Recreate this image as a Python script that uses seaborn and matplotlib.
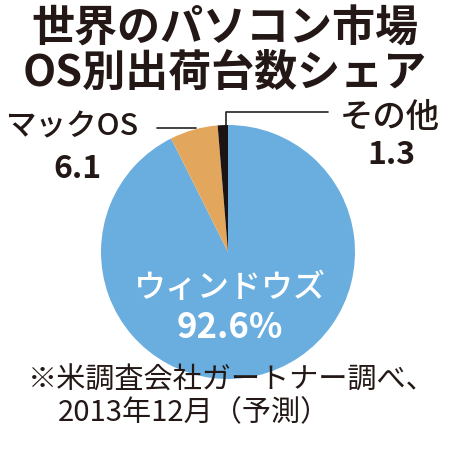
import matplotlib
matplotlib.use("Agg")
import matplotlib.pyplot as plt
import seaborn as sns

# data
labels = ["ウィンドウズ", "マックOS", "その他"]
shares = [92.6, 6.1, 1.3]
colors = ["#6aaedf", "#e2a65c", "#1c1414"]

title_lines = ["世界のパソコン市場", "OS別出荷台数シェア"]
note_lines = ["※米調査会社ガートナー調べ、", "2013年12月（予測）"]

sns.set_theme(style="white")
plt.rcParams["font.family"] = ["Noto Sans CJK JP", "DejaVu Sans"]

W = H = 450
fig = plt.figure(figsize=(4.5, 4.5), dpi=100)


def px(x, y):
    # pixel position (from top-left) -> figure fraction
    return x / W, 1 - y / H


cx, cy, r = 228, 252, 127
ax = fig.add_axes([(cx - r) / W, (H - cy - r) / H, 2 * r / W, 2 * r / H])
ax.pie(shares, colors=colors, startangle=90, counterclock=False,
       radius=1, wedgeprops=dict(linewidth=0))
ax.set_xlim(-1, 1)
ax.set_ylim(-1, 1)
ax.set_aspect("equal")
ax.axis("off")


def d(x, y):
    # pixel -> data coords of pie axes
    return (x - cx) / r, (cy - y) / r


# leader lines
(x0, y0), (x1, y1) = d(157, 128), d(196, 128)
ax.plot([x0, x1], [y0, y1], color="#222222", lw=1.2, clip_on=False)
(a, b), (c, e), (f, g) = d(226, 125), d(226, 112), d(328, 112)
ax.plot([a, c, f], [b, e, g], color="#222222", lw=1.2, clip_on=False)

# title
fig.text(*px(225, 29), title_lines[0], ha="center", va="center",
         fontsize=31, fontweight="bold", color="#231815")
fig.text(*px(225, 73), title_lines[1], ha="center", va="center",
         fontsize=31, fontweight="bold", color="#231815")

# outside labels
fig.text(*px(72, 127), labels[1], ha="center", va="center",
         fontsize=22, fontweight="medium", color="#231815")
fig.text(*px(77, 169), f"{shares[1]:.1f}", ha="center", va="center",
         fontsize=23, fontweight="bold", color="#231815")
fig.text(*px(390, 117), labels[2], ha="center", va="center",
         fontsize=24, fontweight="medium", color="#231815")
fig.text(*px(391, 155), f"{shares[2]:.1f}", ha="center", va="center",
         fontsize=23, fontweight="bold", color="#231815")

# inside label
fig.text(*px(230, 288), labels[0], ha="center", va="center",
         fontsize=23, fontweight="medium", color="white")
fig.text(*px(230, 328), f"{shares[0]:.1f}%", ha="center", va="center",
         fontsize=25, fontweight="bold", color="white")

# note
fig.text(*px(28, 381), note_lines[0], ha="left", va="center",
         fontsize=21, color="#231815")
fig.text(*px(58, 413), note_lines[1], ha="left", va="center",
         fontsize=21, color="#231815")

fig.savefig("out.png", dpi=100, facecolor="white")
